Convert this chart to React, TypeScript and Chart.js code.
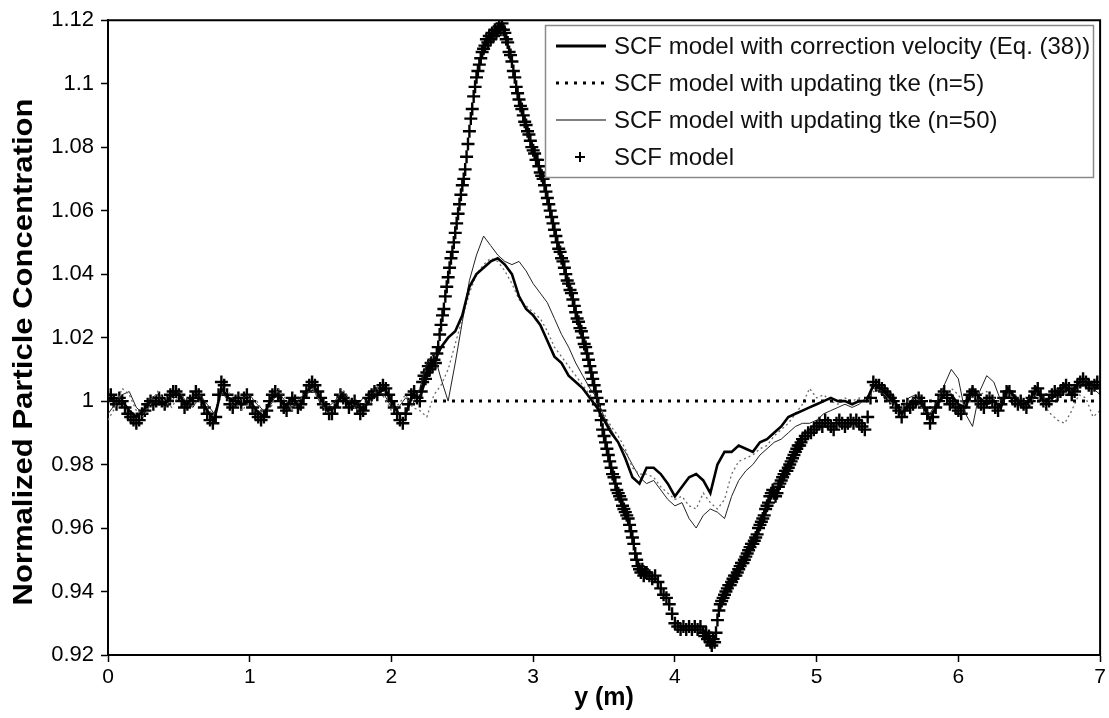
import React, { useEffect, useRef } from "react";
import { Chart, registerables } from "chart.js";

Chart.register(...registerables);

// ---------- data ----------
const xTicks = [0, 1, 2, 3, 4, 5, 6, 7];
const yTicks = [0.92, 0.94, 0.96, 0.98, 1.0, 1.02, 1.04, 1.06, 1.08, 1.1, 1.12];

// SCF model (plus markers), in segments: [start, step]
// A: 0.00–2.20 every 0.02
const scfA = [
  1.001, 1.002, 1.000, 0.999, 1.001, 1.000, 0.998, 0.996, 0.995, 0.994,
  0.993, 0.994, 0.996, 0.997, 0.999, 1.000, 0.999, 1.000, 1.001, 1.000,
  0.999, 1.000, 1.002, 1.003, 1.003, 1.002, 1.000, 0.998, 0.999, 1.000,
  1.001, 1.003, 1.002, 1.000, 0.998, 0.996, 0.994, 0.993, 0.995, 1.002,
  1.006, 1.005, 1.002, 0.999, 0.998, 1.000, 1.001, 0.999, 1.001, 1.002,
  1.000, 0.998, 0.996, 0.995, 0.994, 0.995, 0.997, 1.000, 1.002, 1.003,
  1.002, 1.000, 0.998, 0.997, 0.999, 1.001, 1.000, 0.998, 0.999, 1.001,
  1.003, 1.005, 1.006, 1.005, 1.003, 1.001, 0.999, 0.998, 0.996, 0.996,
  0.998, 1.000, 1.002, 1.001, 1.000, 0.998, 0.999, 1.000, 0.998, 0.996,
  0.997, 0.999, 1.001, 1.002, 1.003, 1.002, 1.004, 1.005, 1.004, 1.002,
  1.000, 0.998, 0.996, 0.994, 0.993, 0.996, 0.999, 1.002, 1.003, 1.001,
  1.000,
];
// B: 2.21–3.80 every 0.01
const scfB = [
  1.003, 1.006, 1.008, 1.007, 1.009, 1.011, 1.010, 1.012, 1.011, 1.013,
  1.012, 1.015, 1.017, 1.021, 1.024, 1.027, 1.029, 1.033, 1.036, 1.039,
  1.042, 1.045, 1.047, 1.050, 1.053, 1.056, 1.059, 1.062, 1.065, 1.068,
  1.070, 1.073, 1.077, 1.081, 1.085, 1.089, 1.092, 1.096, 1.099, 1.102,
  1.104, 1.106, 1.108, 1.110, 1.111, 1.112, 1.114, 1.113, 1.115, 1.114,
  1.116, 1.115, 1.117, 1.116, 1.117, 1.118, 1.117, 1.119, 1.117, 1.116,
  1.114, 1.113, 1.110, 1.109, 1.107, 1.104, 1.102, 1.099, 1.097, 1.095,
  1.093, 1.092, 1.090, 1.088, 1.087, 1.085, 1.084, 1.082, 1.080, 1.079,
  1.078, 1.076, 1.076, 1.074, 1.072, 1.071, 1.070, 1.068, 1.066, 1.064,
  1.062, 1.060, 1.058, 1.056, 1.054, 1.052, 1.050, 1.048, 1.047, 1.045,
  1.044, 1.042, 1.040, 1.038, 1.037, 1.035, 1.034, 1.032, 1.030, 1.028,
  1.026, 1.025, 1.023, 1.022, 1.020, 1.018, 1.017, 1.015, 1.013, 1.011,
  1.009, 1.007, 1.005, 1.003, 1.001, 0.999, 0.997, 0.994, 0.991, 0.989,
  0.987, 0.985, 0.983, 0.981, 0.979, 0.977, 0.976, 0.974, 0.972, 0.971,
  0.970, 0.969, 0.967, 0.966, 0.965, 0.964, 0.963, 0.961, 0.959, 0.957,
  0.955, 0.952, 0.950, 0.948, 0.947, 0.946, 0.947, 0.945, 0.946, 0.946,
];
// C: 3.82–4.20 every 0.02
const scfC = [
  0.945, 0.944, 0.945, 0.943, 0.941, 0.939, 0.938, 0.936, 0.933, 0.930,
  0.929, 0.928, 0.929, 0.928, 0.929, 0.928, 0.929, 0.928, 0.929, 0.927,
];
// D: 4.21–4.90 every 0.01
const scfD = [
  0.926, 0.927, 0.925, 0.926, 0.924, 0.923, 0.925, 0.924, 0.927, 0.931,
  0.934, 0.936, 0.937, 0.938, 0.939, 0.940, 0.941, 0.942, 0.942, 0.943,
  0.944, 0.945, 0.945, 0.946, 0.947, 0.948, 0.949, 0.949, 0.950, 0.951,
  0.952, 0.953, 0.954, 0.955, 0.955, 0.956, 0.957, 0.958, 0.960, 0.961,
  0.962, 0.963, 0.964, 0.966, 0.967, 0.968, 0.970, 0.971, 0.972, 0.971,
  0.970, 0.971, 0.973, 0.974, 0.975, 0.976, 0.977, 0.978, 0.978, 0.979,
  0.980, 0.981, 0.982, 0.983, 0.984, 0.985, 0.986, 0.986, 0.987, 0.988,
];
// E: 4.92–7.00 every 0.02
const scfE = [
  0.989, 0.990, 0.990, 0.991, 0.992, 0.993, 0.992, 0.994, 0.993, 0.992,
  0.991, 0.993, 0.994, 0.993, 0.992, 0.993, 0.994, 0.993, 0.994, 0.993,
  0.992, 0.991, 0.995, 1.001, 1.006, 1.005, 1.005, 1.004, 1.003, 1.002,
  1.001, 1.000, 0.998, 0.997, 0.995, 0.997, 0.999, 0.998, 0.999, 1.000,
  1.001, 1.000, 0.998, 0.996, 0.993, 0.995, 0.998, 1.000, 1.002, 1.003,
  1.001, 0.999, 1.000, 0.998, 0.997, 0.996, 0.998, 1.000, 1.002, 1.003,
  1.002, 1.000, 0.999, 0.998, 1.000, 1.001, 1.000, 0.998, 0.997, 0.999,
  1.001, 1.003, 1.003, 1.001, 1.000, 0.999, 1.000, 0.999, 0.998, 1.000,
  1.001, 1.003, 1.004, 1.002, 1.000, 0.999, 1.000, 1.002, 1.003, 1.002,
  1.003, 1.004, 1.005, 1.004, 1.002, 1.003, 1.005, 1.006, 1.007, 1.006,
  1.005, 1.004, 1.005, 1.006, 1.004,
];

// Line series, sampled every 0.05 m from 0 to 7
const lineStep = 0.05;
const corrVelocity = [
  1.001, 1.000, 1.000, 0.997, 0.995, 0.997, 1.000, 1.000, 0.999, 1.002,
  1.002, 0.999, 1.001, 1.001, 0.997, 0.994, 1.004, 1.001, 1.000, 0.999,
  1.000, 0.997, 0.995, 1.001, 1.002, 0.998, 1.001, 0.998, 1.003, 1.005,
  1.001, 0.997, 0.998, 1.002, 0.999, 1.000, 0.997, 1.001, 1.002, 1.004,
  1.000, 0.996, 0.996, 1.002, 1.001, 1.008, 1.012, 1.017, 1.020, 1.022,
  1.027, 1.036, 1.040, 1.042, 1.044, 1.045, 1.043, 1.040, 1.033, 1.029,
  1.027, 1.024, 1.019, 1.014, 1.012, 1.008, 1.006, 1.004, 1.001, 0.998,
  0.994, 0.990, 0.987, 0.982, 0.976, 0.974, 0.979, 0.979, 0.977, 0.974,
  0.970, 0.973, 0.976, 0.977, 0.975, 0.971, 0.980, 0.984, 0.984, 0.986,
  0.985, 0.984, 0.987, 0.988, 0.990, 0.992, 0.995, 0.996, 0.997, 0.998,
  0.999, 1.000, 1.001, 1.000, 1.000, 0.999, 1.000, 1.000, 1.005, 1.004,
  1.002, 1.000, 0.996, 0.999, 1.000, 0.999, 0.994, 0.999, 1.002, 1.002,
  0.999, 0.998, 1.004, 1.001, 0.999, 1.000, 0.998, 1.004, 1.001, 0.999,
  1.000, 1.004, 1.000, 1.001, 1.002, 1.005, 1.002, 1.006, 1.006, 1.005,
  1.005,
];
const tkeN5 = [
  0.994, 0.998, 1.004, 1.002, 0.997, 0.995, 0.999, 1.003, 1.000, 0.998,
  1.002, 1.001, 0.999, 1.000, 0.998, 0.995, 1.002, 1.003, 0.999, 0.997,
  1.001, 1.000, 0.996, 0.998, 1.004, 1.001, 0.997, 1.000, 1.003, 1.003,
  1.000, 0.996, 0.999, 1.004, 1.001, 0.997, 0.999, 1.000, 1.004, 1.001,
  0.997, 0.999, 1.002, 0.998, 0.997, 0.995, 1.002, 1.005, 1.010, 1.018,
  1.026, 1.034, 1.040, 1.043, 1.045, 1.044, 1.041, 1.037, 1.032, 1.030,
  1.028, 1.026, 1.022, 1.017, 1.014, 1.011, 1.008, 1.005, 1.002, 0.999,
  0.996, 0.992, 0.989, 0.985, 0.979, 0.977, 0.977, 0.976, 0.973, 0.971,
  0.969, 0.970, 0.967, 0.966, 0.971, 0.968, 0.966, 0.969, 0.977, 0.981,
  0.982, 0.983, 0.985, 0.986, 0.989, 0.991, 0.993, 0.996, 0.999, 1.004,
  1.001, 1.002, 1.000, 0.999, 1.001, 1.000, 1.001, 1.000, 1.003, 1.004,
  1.001, 0.998, 0.997, 1.000, 1.001, 0.997, 0.995, 0.999, 1.002, 1.004,
  1.002, 0.998, 1.001, 1.002, 1.003, 1.001, 0.999, 1.002, 1.001, 1.000,
  0.999, 1.002, 0.999, 0.996, 0.994, 0.993, 0.997, 1.002, 1.001, 0.995,
  0.997,
];
const tkeN50 = [
  0.996, 0.999, 1.002, 1.003, 0.998, 0.996, 1.001, 1.002, 0.998, 1.000,
  1.003, 1.000, 0.998, 1.002, 0.999, 0.996, 1.003, 1.000, 0.998, 1.001,
  1.002, 0.999, 0.997, 0.999, 1.003, 1.000, 0.998, 1.001, 1.002, 1.004,
  0.999, 0.998, 1.000, 1.003, 1.000, 0.998, 1.001, 0.999, 1.003, 1.002,
  0.998, 0.998, 1.001, 0.999, 1.004, 1.012, 1.015, 1.007, 1.000, 1.012,
  1.025, 1.038, 1.046, 1.052, 1.049, 1.046, 1.044, 1.043, 1.044, 1.041,
  1.037, 1.034, 1.031, 1.026, 1.021, 1.017, 1.012, 1.008, 1.004, 1.001,
  0.995, 0.991, 0.987, 0.984, 0.980, 0.976, 0.974, 0.975, 0.972, 0.969,
  0.967, 0.968, 0.963, 0.960, 0.964, 0.966, 0.965, 0.963, 0.970, 0.975,
  0.978, 0.980, 0.983, 0.985, 0.987, 0.988, 0.990, 0.992, 0.993, 0.993,
  0.994, 0.996, 0.997, 0.998, 0.999, 0.998, 0.999, 1.001, 1.004, 1.003,
  1.000, 0.999, 0.997, 1.001, 1.002, 0.998, 0.996, 1.000, 1.005, 1.010,
  1.007, 0.996, 0.992, 1.003, 1.008, 1.006, 1.000, 1.003, 1.002, 0.999,
  1.001, 1.003, 1.001, 1.000, 1.002, 1.004, 1.003, 1.005, 1.007, 1.004,
  1.002,
];
// horizontal dotted reference at 1.0
const refLineX = [2.3, 7];
const refLineY = [1, 1];

const legendLabels = [
  "SCF model with correction velocity (Eq. (38))",
  "SCF model with updating tke (n=5)",
  "SCF model with updating tke (n=50)",
  "SCF model",
];
const yTitle = "Normalized Particle Concentration";
const xTitle = "y (m)";

const seg = (vals: number[], start: number, step: number) =>
  vals.map((v, i) => ({ x: +(start + i * step).toFixed(3), y: v }));

const scfPoints = [
  ...seg(scfA, 0, 0.02),
  ...seg(scfB, 2.21, 0.01),
  ...seg(scfC, 3.82, 0.02),
  ...seg(scfD, 4.21, 0.01),
  ...seg(scfE, 4.92, 0.02),
];

const FONT = "'Liberation Sans', Arial, Helvetica, sans-serif";

const framePlugin = {
  id: "frameAndLegend",
  afterDraw(chart: any) {
    const { ctx, chartArea } = chart;
    ctx.save();
    // frame (top + right)
    ctx.strokeStyle = "#000";
    ctx.lineWidth = 2;
    ctx.beginPath();
    ctx.moveTo(chartArea.left, chartArea.top);
    ctx.lineTo(chartArea.right, chartArea.top);
    ctx.lineTo(chartArea.right, chartArea.bottom);
    ctx.stroke();

    // y-axis title (rotated)
    ctx.save();
    ctx.translate(24, 352);
    ctx.rotate(-Math.PI / 2);
    ctx.font = `bold 28px ${FONT}`;
    const w = ctx.measureText(yTitle).width;
    ctx.scale(507 / w, 1);
    ctx.fillStyle = "#000";
    ctx.textAlign = "center";
    ctx.textBaseline = "middle";
    ctx.fillText(yTitle, 0, 0);
    ctx.restore();

    // legend box
    const bx = 545, by = 25, bw = 548, bh = 152;
    ctx.fillStyle = "#fff";
    ctx.fillRect(bx, by, bw, bh);
    ctx.strokeStyle = "#8a8a8a";
    ctx.lineWidth = 1.5;
    ctx.strokeRect(bx + 0.5, by + 0.5, bw, bh);

    const rows = [46, 83, 120, 157];
    const sx0 = 556, sx1 = 606, tx = 614;
    ctx.strokeStyle = "#000";
    ctx.setLineDash([]);
    ctx.lineWidth = 3;
    ctx.beginPath();
    ctx.moveTo(sx0, rows[0]);
    ctx.lineTo(sx1, rows[0]);
    ctx.stroke();
    ctx.lineWidth = 3;
    ctx.setLineDash([3, 6]);
    ctx.beginPath();
    ctx.moveTo(sx0, rows[1]);
    ctx.lineTo(sx1, rows[1]);
    ctx.stroke();
    ctx.setLineDash([]);
    ctx.lineWidth = 1.2;
    ctx.beginPath();
    ctx.moveTo(sx0, rows[2]);
    ctx.lineTo(sx1, rows[2]);
    ctx.stroke();
    ctx.lineWidth = 2;
    const px = 580, py = rows[3];
    ctx.beginPath();
    ctx.moveTo(px - 5, py);
    ctx.lineTo(px + 5, py);
    ctx.moveTo(px, py - 5);
    ctx.lineTo(px, py + 5);
    ctx.stroke();

    ctx.fillStyle = "#111";
    ctx.font = `24px ${FONT}`;
    ctx.textBaseline = "middle";
    ctx.textAlign = "left";
    legendLabels.forEach((t, i) => ctx.fillText(t, tx, rows[i] + 1));
    ctx.restore();
  },
};

export default function App() {
  const ref = useRef<HTMLCanvasElement>(null);
  useEffect(() => {
    const canvas = ref.current;
    if (!canvas) return;
    const chart = new Chart(canvas, {
      type: "line",
      data: {
        datasets: [
          {
            label: "ref",
            data: refLineX.map((x, i) => ({ x, y: refLineY[i] })),
            borderColor: "#000",
            borderWidth: 3,
            borderDash: [3, 6],
            pointRadius: 0,
            fill: false,
          },
          {
            label: legendLabels[0],
            data: seg(corrVelocity, 0, lineStep),
            borderColor: "#000",
            borderWidth: 2.6,
            pointRadius: 0,
            fill: false,
          },
          {
            label: legendLabels[1],
            data: seg(tkeN5, 0, lineStep),
            borderColor: "#6a6a6a",
            borderWidth: 1.3,
            borderDash: [2, 3],
            pointRadius: 0,
            fill: false,
          },
          {
            label: legendLabels[2],
            data: seg(tkeN50, 0, lineStep),
            borderColor: "#222",
            borderWidth: 1,
            pointRadius: 0,
            fill: false,
          },
          {
            label: legendLabels[3],
            data: scfPoints,
            showLine: false,
            pointStyle: "cross",
            pointRadius: 6.5,
            pointBorderWidth: 2.4,
            pointBorderColor: "#000",
            pointBackgroundColor: "#000",
          },
        ],
      },
      options: {
        responsive: false,
        animation: false,
        events: [],
        layout: { padding: { top: 16, right: 7, left: 0, bottom: 0 } },
        plugins: { legend: { display: false }, tooltip: { enabled: false } },
        scales: {
          x: {
            type: "linear",
            min: 0,
            max: 7,
            afterBuildTicks: (s: any) => {
              s.ticks = xTicks.map((v) => ({ value: v }));
            },
            afterFit: (s: any) => {
              s.height = 63;
            },
            ticks: {
              color: "#000",
              font: { family: FONT, size: 21 },
              padding: 3,
              maxRotation: 0,
            },
            grid: {
              display: true,
              drawOnChartArea: false,
              drawTicks: true,
              tickLength: 7,
              tickColor: "#000",
              tickWidth: 1.5,
            },
            border: { display: true, color: "#000", width: 2 },
            title: {
              display: true,
              text: xTitle,
              color: "#000",
              font: { family: FONT, size: 25, weight: "bold", lineHeight: 1.2 },
              padding: { top: 0, bottom: 5 },
            },
          },
          y: {
            type: "linear",
            min: 0.92,
            max: 1.12,
            afterBuildTicks: (s: any) => {
              s.ticks = yTicks.map((v) => ({ value: v }));
            },
            afterFit: (s: any) => {
              s.width = 108;
            },
            ticks: {
              color: "#000",
              font: { family: FONT, size: 22 },
              padding: 7,
              callback: (v: any) => String(Number(Number(v).toFixed(2))),
            },
            grid: {
              display: true,
              drawOnChartArea: false,
              drawTicks: true,
              tickLength: 7,
              tickColor: "#000",
              tickWidth: 1.5,
            },
            border: { display: true, color: "#000", width: 2 },
            title: { display: false },
          },
        },
      },
      plugins: [framePlugin],
    } as any);
    return () => chart.destroy();
  }, []);

  return (
    <div
      style={{
        position: "absolute",
        left: 0,
        top: 0,
        width: 1109,
        height: 718,
        background: "#fff",
      }}
    >
      <canvas ref={ref} width={1109} height={718} style={{ display: "block" }} />
    </div>
  );
}
